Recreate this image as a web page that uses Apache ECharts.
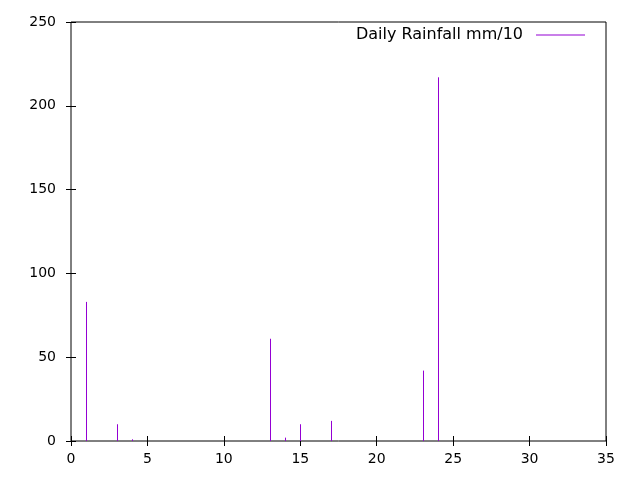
<!DOCTYPE html>
<html>
<head>
<meta charset="utf-8">
<script src="https://cdn.jsdelivr.net/npm/echarts@6/dist/echarts.min.js"></script>
<style>
  html, body { margin: 0; padding: 0; background: #fff; }
  #chart { width: 640px; height: 480px; }
</style>
</head>
<body>
<div id="chart"></div>
<script>
var days = [1, 3, 4, 13, 14, 15, 17, 23, 24];
var rain = [83, 10, 1, 61, 2, 10, 12, 42, 217];
var seriesName = 'Daily Rainfall mm/10';

var points = days.map( function( d, i ) {
  return [ d, rain[ i ] ];
} );

var font = 'DejaVu Sans';
function ticks() {
  return { show: true, inside: true, length: 5, lineStyle: { color: '#000', width: 1 } };
}

//impulses: one vertical line per point, snapped to the pixel grid
function renderImpulse( params, api ) {
  var top = api.coord( [ api.value( 0 ), api.value( 1 ) ] );
  var base = api.coord( [ api.value( 0 ), 0 ] );
  var x = Math.round( top[ 0 ] ) + 0.5;
  return {
    type: 'line',
    shape: { x1: x, y1: base[ 1 ], x2: x, y2: top[ 1 ] },
    style: { stroke: '#9400d3', lineWidth: 1 }
  };
}

var chart = echarts.init( document.getElementById( 'chart' ) );
chart.setOption( {
  animation: false,
  backgroundColor: '#fff',
  grid: { left: 71, right: 34, top: 22, bottom: 39, show: true, borderColor: '#000', borderWidth: 1 },
  legend: {
    data: [ { name: seriesName, icon: 'rect' } ],
    right: 55,
    top: 27,
    padding: 0,
    align: 'right',
    itemWidth: 49,
    itemHeight: 1,
    itemGap: 0,
    textStyle: { fontFamily: font, fontSize: 16, color: '#000', padding: [ 0, 8, 0, 0 ] }
  },
  xAxis: [ {
    type: 'value', min: 0, max: 35, interval: 5,
    axisLine: { show: false },
    axisTick: ticks(),
    splitLine: { show: false },
    axisLabel: { fontFamily: font, fontSize: 14, color: '#000', margin: 11 }
  }, {
    type: 'value', position: 'top', min: 0, max: 35, interval: 5,
    axisLine: { show: false }, axisTick: ticks(),
    splitLine: { show: false }, axisLabel: { show: false }
  } ],
  yAxis: [ {
    type: 'value', position: 'left', min: 0, max: 250, interval: 50,
    axisLine: { show: false },
    axisTick: ticks(),
    splitLine: { show: false },
    axisLabel: { fontFamily: font, fontSize: 14, color: '#000', margin: 15 }
  }, {
    type: 'value', position: 'right', min: 0, max: 250, interval: 50,
    axisLine: { show: false }, axisTick: ticks(),
    splitLine: { show: false }, axisLabel: { show: false }
  } ],
  series: [ {
    name: seriesName,
    type: 'custom',
    renderItem: renderImpulse,
    itemStyle: { color: '#9400d3' },
    encode: { x: 0, y: 1 },
    data: points
  } ]
} );
</script>
</body>
</html>
